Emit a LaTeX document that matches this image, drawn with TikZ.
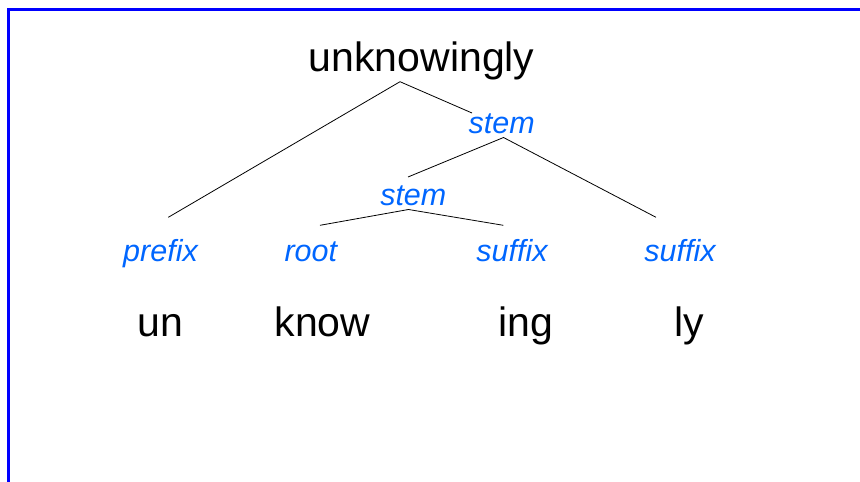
\documentclass[tikz,border=0pt]{standalone}
\usepackage{fontspec}
\setmainfont{Liberation Sans}
\definecolor{framblue}{RGB}{0,0,255}
\definecolor{lblblue}{RGB}{0,102,255}
\tikzset{
  word/.style={anchor=base, inner sep=0pt, font=\fontsize{41}{45}\selectfont, text=black},
  cat/.style={anchor=base, inner sep=0pt, font=\fontsize{30.5}{34}\selectfont\itshape, text=lblblue},
  branch/.style={draw=black, line width=0.8pt}
}
\begin{document}
\begin{tikzpicture}[x=1pt,y=-1pt]
\useasboundingbox (0,0) rectangle (860,482);
\begin{scope}
\clip (0,0) rectangle (860,482);
\draw[framblue, line width=3.2pt] (8.6,9.6) rectangle (875,500);
\end{scope}
% texts
\node[word] (top) at (421.7,71.7) {unknowingly};
\node[cat] (stemA) at (501.7,133.3) {stem};
\node[cat] (stemB) at (413.3,205.7) {stem};
\node[cat] (prefix) at (160.5,261.7) {prefix};
\node[cat] (root) at (310.8,261.7) {root};
\node[cat] (sufA) at (512,261.7) {suffix};
\node[cat] (sufB) at (680,261.7) {suffix};
\node[word] (un) at (160.5,336.7) {un};
\node[word] (know) at (322.5,336.7) {know};
\node[word] (ing) at (526,336.7) {ing};
\node[word] (ly) at (689,336.7) {ly};
% branch points
\coordinate (topApex) at (400,81.7);
\coordinate (topL) at (168.3,217.3);
\coordinate (topR) at (472,113);
\coordinate (sAApex) at (503.5,137.5);
\coordinate (sAL) at (408,177);
\coordinate (sAR) at (656,217.3);
\coordinate (sBApex) at (408.5,209.5);
\coordinate (sBL) at (320,225.3);
\coordinate (sBR) at (503.3,225.3);
\draw[branch] (topL) -- (topApex) -- (topR);
\draw[branch] (sAL) -- (sAApex) -- (sAR);
\draw[branch] (sBL) -- (sBApex) -- (sBR);
\end{tikzpicture}
\end{document}
